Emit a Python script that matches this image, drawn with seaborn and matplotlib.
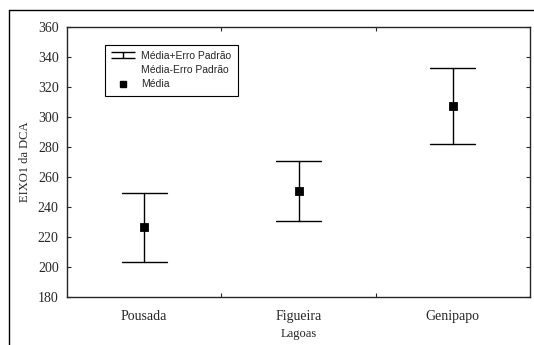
import numpy as np
import pandas as pd
import matplotlib
matplotlib.use("Agg")
import matplotlib.pyplot as plt
from matplotlib.lines import Line2D
from matplotlib.path import Path
import seaborn as sns

lagoas = ["Pousada", "Figueira", "Genipapo"]
media = [226.5, 250.5, 307.5]
media_mais_ep = [249.5, 271.0, 333.0]
media_menos_ep = [203.5, 230.5, 282.0]

# long table: lower / mean / upper per lagoa -> median gives mean, min/max gives the bar
df = pd.DataFrame({
    "Lagoas": np.repeat(lagoas, 3),
    "valor": np.ravel(np.column_stack([media_menos_ep, media, media_mais_ep])),
})

sns.set_style("ticks")
plt.rcParams["font.family"] = ["Liberation Serif", "DejaVu Serif"]

fig = plt.figure(figsize=(5.34, 3.45), dpi=100)
ax = fig.add_axes([0.1255, 0.139, 0.867, 0.7826])

sns.pointplot(data=df, x="Lagoas", y="valor", estimator=np.median,
              errorbar=lambda v: (v.min(), v.max()), linestyle="none",
              marker="s", markersize=4.5, color="black", capsize=0.29,
              err_kws={"linewidth": 1.0, "color": "black"}, ax=ax)

ax.set_xlim(-0.5, 2.5)
ax.set_ylim(180, 360)
ax.set_yticks(np.arange(180, 361, 20))
ax.set_xticks([0, 1, 2])
ax.set_xticks([0.5, 1.5], minor=True)
ax.tick_params(axis="both", which="both", direction="in", right=True, top=True,
               labelsize=10, length=3, width=0.8)
ax.tick_params(axis="y", which="major", pad=6)
ax.tick_params(axis="x", which="major", length=0, pad=9)
for s in ax.spines.values():
    s.set_linewidth(1.0)
ax.set_xlabel("Lagoas", fontsize=9, labelpad=4)
ax.set_ylabel("EIXO1 da DCA", fontsize=9, labelpad=5)

ibeam = Path([(-1, 0.28), (1, 0.28), (0, 0.28), (0, -0.28), (-1, -0.28), (1, -0.28)],
             [Path.MOVETO, Path.LINETO, Path.MOVETO, Path.LINETO, Path.MOVETO, Path.LINETO])
handles = [
    Line2D([], [], linestyle="none", marker=ibeam, markersize=17, color="black",
           markeredgewidth=1.0),
    Line2D([], [], linestyle="none"),
    Line2D([], [], linestyle="none", marker="s", markersize=4, color="black"),
]
labels = ["Média+Erro Padrão", "Média-Erro Padrão", "Média"]
leg = ax.legend(handles, labels, loc="upper left", bbox_to_anchor=(0.082, 0.934),
                frameon=True, fancybox=False, edgecolor="black", framealpha=1,
                prop={"family": "Liberation Sans", "size": 7.5}, handlelength=2.2,
                handletextpad=0.7, labelspacing=0.4, borderpad=0.6,
                borderaxespad=0)
leg.get_frame().set_linewidth(0.8)

# outer frame of the original page
fig.add_artist(Line2D([0.017, 0.017], [0.0, 0.971], color="black", linewidth=1.0,
                      transform=fig.transFigure))
fig.add_artist(Line2D([0.017, 1.0], [0.971, 0.971], color="black", linewidth=1.0,
                      transform=fig.transFigure))

fig.savefig("out.png", dpi=100)
